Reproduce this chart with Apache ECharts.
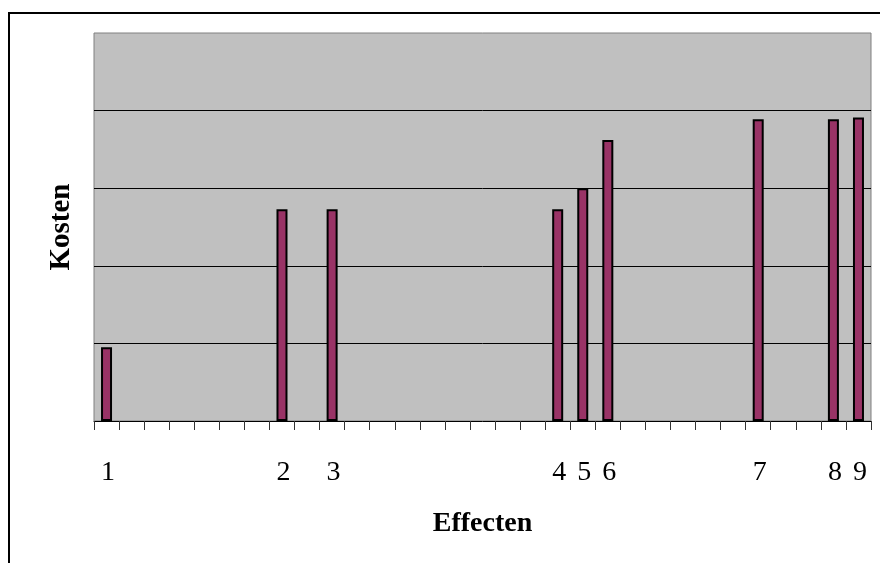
<!DOCTYPE html>
<html>
<head>
<meta charset="utf-8">
<script src="https://cdn.jsdelivr.net/npm/echarts@6/dist/echarts.min.js"></script>
<style>
html,body{margin:0;padding:0;background:#fff;}
#chart{width:880px;height:563px;}
</style>
</head>
<body>
<div id="chart"></div>
<script>
// 31 category slots along the x axis; only some are labelled
var categories = ['1','','','','','','','2','','3','','','','','','','','','4','5','6','','','','','','7','','','8','9'];
// Costs per slot ('-' = no bar)
var kosten = [0.95,'-','-','-','-','-','-',2.73,'-',2.73,'-','-','-','-','-','-','-','-',2.73,3.0,3.62,'-','-','-','-','-',3.89,'-','-',3.89,3.91];
var yMin = 0, yMax = 5, yStep = 1;
var xTitle = 'Effecten';
var yTitle = 'Kosten';

var chart = echarts.init(document.getElementById('chart'), null, {renderer:'canvas'});
chart.setOption({
  animation: false,
  backgroundColor: '#ffffff',
  graphic: [{
    type: 'rect', z: 0, silent: true,
    shape: {x: 9, y: 13, width: 900, height: 600},
    style: {fill: 'none', stroke: '#000', lineWidth: 2}
  }],
  grid: {
    left: 94, right: 9, top: 33, bottom: 142,
    show: true, backgroundColor: '#c0c0c0', borderColor: '#808080', borderWidth: 1
  },
  xAxis: {
    type: 'category',
    data: categories,
    boundaryGap: true,
    name: xTitle,
    nameLocation: 'middle',
    nameGap: 89,
    nameTextStyle: {fontFamily: 'Liberation Serif', fontWeight: 'bold', fontSize: 28, color: '#000', padding: [0, 0, 0, 0]},
    axisLine: {show: true, lineStyle: {color: '#000', width: 1}},
    axisTick: {show: true, interval: 0, length: 9, lineStyle: {color: '#333', width: 1}},
    axisLabel: {interval: 0, margin: 38, fontFamily: 'Liberation Serif', fontSize: 28, color: '#000', padding: [0, 0, 0, 3]},
    splitLine: {show: false}
  },
  yAxis: {
    type: 'value',
    min: yMin, max: yMax, interval: yStep,
    name: yTitle,
    nameLocation: 'middle',
    nameGap: 18,
    nameTextStyle: {fontFamily: 'Liberation Serif', fontWeight: 'bold', fontSize: 29, color: '#000'},
    axisLine: {show: false},
    axisTick: {show: false},
    axisLabel: {show: false},
    splitLine: {show: true, showMinLine: false, showMaxLine: false, lineStyle: {color: '#000', width: 1}}
  },
  series: [{
    type: 'bar',
    data: kosten,
    barWidth: 11,
    itemStyle: {color: '#993366', borderColor: '#000', borderWidth: 2}
  }]
});
</script>
</body>
</html>
